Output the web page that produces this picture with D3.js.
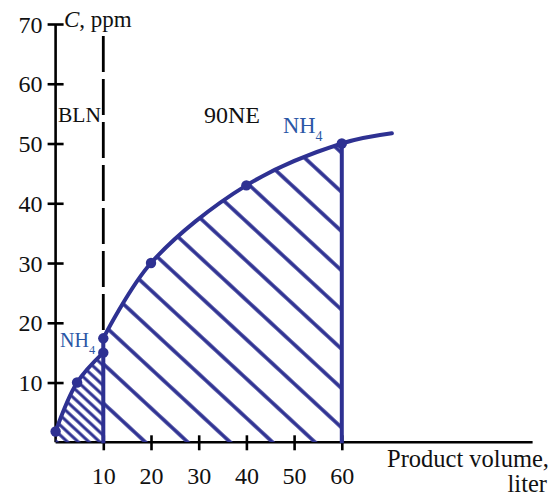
<!DOCTYPE html>
<html>
<head>
<meta charset="utf-8">
<script src="https://cdn.jsdelivr.net/npm/d3@7"></script>
<style>
  html, body { margin: 0; padding: 0; background: #fff; }
  svg { display: block; }
  text { font-family: "Liberation Serif", "Times New Roman", serif; }
</style>
</head>
<body>
<svg id="chart" width="554" height="497"></svg>
<script>
// Axis ticks
const xTickValues = [10, 20, 30, 40, 50, 60];
const yTickValues = [10, 20, 30, 40, 50, 60, 70];

// Initial (buffer) breakthrough curve, product volume (liter) vs concentration (ppm)
const bufferVolume = [0, 4.5, 10];
const bufferConc = [1.8, 10, 15];

// Main NH4 breakthrough curve
const mainVolume = [10, 20, 40, 60, 70.5];
const mainConc = [17.4, 30, 43, 50, 51.7];
const mainMarked = [true, true, true, true, false];

// Vertical markers: BLN volume (dashed) and the end of the run
const blnVolume = 10;
const endVolume = 60;

const BLUE = "#2e3192";
const LABEL_BLUE = "#2b57a6";

const svg = d3.select("#chart");

const x = d3.scaleLinear().domain([0, 100]).range([55.6, 532.6]);
const y = d3.scaleLinear().domain([0, 70]).range([442.3, 24]);

const bufferPts = bufferVolume.map((v, i) => [v, bufferConc[i]]);
const mainPts = mainVolume.map((v, i) => [v, mainConc[i]]);

const defs = svg.append("defs");

// Hatch patterns: diagonal strokes running from upper left to lower right
function hatch(id, spacing, ox, oy, width) {
  const p = defs.append("pattern")
    .attr("id", id)
    .attr("patternUnits", "userSpaceOnUse")
    .attr("width", spacing)
    .attr("height", spacing)
    .attr("patternTransform", `translate(${ox},${oy}) rotate(-47.2)`);
  [0, spacing].forEach(px => p.append("line")
    .attr("x1", px).attr("x2", px).attr("y1", -1).attr("y2", spacing + 1)
    .attr("stroke", BLUE).attr("stroke-width", width));
}
hatch("hatchWide", 28.8, 357.5, 442.3, 3.6);
hatch("hatchDense", 7.3, 110.9, 442.3, 3.0);

defs.append("clipPath").attr("id", "runClip")
  .append("rect")
  .attr("x", x(blnVolume)).attr("y", 0)
  .attr("width", x(endVolume) - x(blnVolume))
  .attr("height", y(0));

const curve = d3.curveCatmullRom.alpha(0.5);
const line = d3.line().x(d => x(d[0])).y(d => y(d[1])).curve(curve);
const area = d3.area().x(d => x(d[0])).y0(y(0)).y1(d => y(d[1])).curve(curve);

// Axes
const xAxis = d3.axisBottom(x).tickValues(xTickValues).tickSize(8).tickSizeOuter(0);
const yAxis = d3.axisLeft(y).tickValues(yTickValues).tickSize(8).tickSizeOuter(0);

const gx = svg.append("g").attr("transform", `translate(0,${y(0)})`).call(xAxis);
const gy = svg.append("g").attr("transform", `translate(${x(0)},0)`).call(yAxis);

[gx, gy].forEach(g => {
  g.select(".domain").attr("stroke", "#000").attr("stroke-width", 2.6);
  g.selectAll(".tick line").attr("stroke", "#000").attr("stroke-width", 2.6);
  g.selectAll(".tick text")
    .attr("fill", "#111")
    .style("font-family", "'Liberation Serif', serif")
    .style("font-size", "24px");
});
gx.select(".domain").attr("d", `M${x(0)},0H${x(100)}`);
gx.selectAll(".tick line").attr("y1", -7).attr("y2", 8);
gx.selectAll(".tick text").attr("y", 41.7).attr("dy", 0);
gy.select(".domain").attr("d", `M0,${y(0)}V${y(70)}`);
gy.selectAll(".tick line").attr("x1", 8).attr("x2", -8);
gy.selectAll(".tick text").attr("x", -13).attr("dy", "0.34em");

// Dashed BLN line
svg.append("line")
  .attr("x1", x(blnVolume)).attr("x2", x(blnVolume))
  .attr("y1", 36).attr("y2", y(0))
  .attr("stroke", "#000").attr("stroke-width", 2.8)
  .attr("stroke-dasharray", "36 7");

// Hatched regions
svg.append("path")
  .attr("d", area(bufferPts))
  .attr("fill", "url(#hatchDense)");
svg.append("g").attr("clip-path", "url(#runClip)")
  .append("path")
  .attr("d", area(mainPts))
  .attr("fill", "url(#hatchWide)");

// Curves
svg.append("path").attr("d", line(bufferPts))
  .attr("fill", "none").attr("stroke", BLUE).attr("stroke-width", 4);
svg.append("path").attr("d", line(mainPts))
  .attr("fill", "none").attr("stroke", BLUE).attr("stroke-width", 4)
  .attr("stroke-linecap", "round");

// Vertical boundaries of the hatched run
svg.append("line")
  .attr("x1", x(blnVolume)).attr("x2", x(blnVolume))
  .attr("y1", y(mainConc[0])).attr("y2", y(0) + 1)
  .attr("stroke", BLUE).attr("stroke-width", 4);
svg.append("line")
  .attr("x1", x(endVolume)).attr("x2", x(endVolume))
  .attr("y1", y(mainConc[3])).attr("y2", y(0) + 1)
  .attr("stroke", BLUE).attr("stroke-width", 4);

// Data points
const markers = bufferPts.concat(mainPts.filter((d, i) => mainMarked[i]));
svg.selectAll("circle.pt").data(markers).join("circle")
  .attr("class", "pt")
  .attr("cx", d => x(d[0])).attr("cy", d => y(d[1]))
  .attr("r", 5.2).attr("fill", BLUE);

// Axis titles
const yTitle = svg.append("text").attr("x", 64).attr("y", 27)
  .style("font-size", "23px").attr("fill", "#111");
yTitle.append("tspan").style("font-style", "italic").text("C");
yTitle.append("tspan").text(", ppm");

svg.append("text").attr("x", 387).attr("y", 467)
  .style("font-size", "24.5px").attr("fill", "#111").text("Product volume,");
svg.append("text").attr("x", 547).attr("y", 492).attr("text-anchor", "end")
  .style("font-size", "24.5px").attr("fill", "#111").text("liter");

// Annotations
svg.append("text").attr("x", 58).attr("y", 122)
  .style("font-size", "21.5px").attr("fill", "#111").text("BLN");
svg.append("text").attr("x", 204).attr("y", 123)
  .style("font-size", "24px").attr("fill", "#111").text("90NE");

function nh4(xp, yp, size) {
  const t = svg.append("text").attr("x", xp).attr("y", yp)
    .style("font-size", size + "px").attr("fill", LABEL_BLUE);
  t.append("tspan").text("NH");
  t.append("tspan").attr("dy", size * 0.36).style("font-size", (size * 0.62) + "px").text("4");
}
nh4(283, 133, 22.5);
nh4(60, 347, 20);
</script>
</body>
</html>
